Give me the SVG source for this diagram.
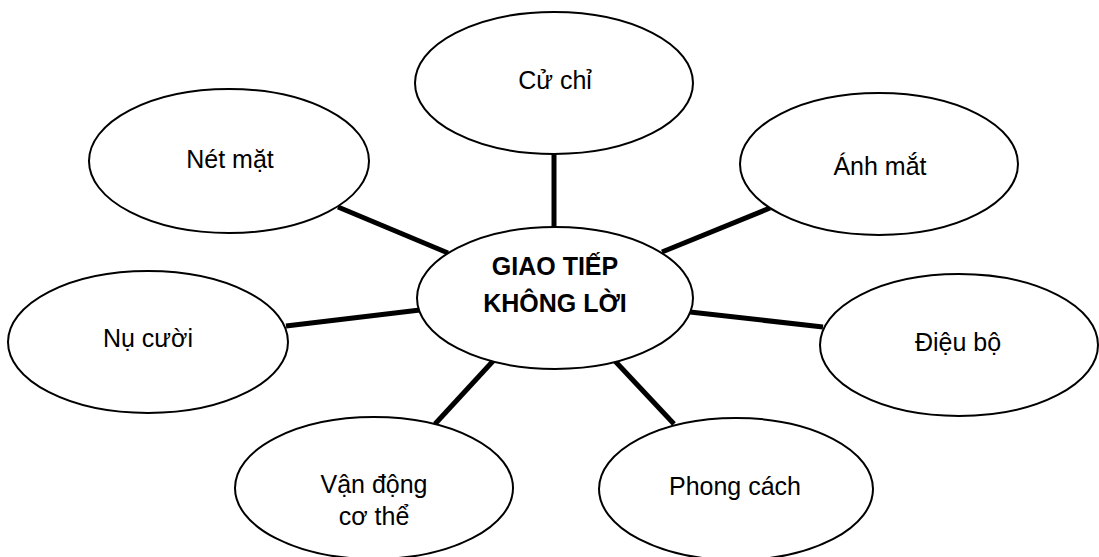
<svg xmlns="http://www.w3.org/2000/svg" width="1099" height="557" viewBox="0 0 1099 557">
<style>
.node ellipse{fill:#fff;stroke:#000;stroke-width:2}
.lbl{font-family:"Liberation Sans",Arial,sans-serif;font-size:25px;fill:#000;text-anchor:middle}
.hub{font-weight:bold}
.conn line{stroke:#000;stroke-width:5;stroke-linecap:butt}
</style>
<rect width="1099" height="557" fill="#fff"/>
<g id="connectors" class="conn">
<line x1="554" y1="153" x2="554" y2="228"/>
<line x1="338" y1="207" x2="448" y2="253"/>
<line x1="286" y1="326" x2="420" y2="310"/>
<line x1="770" y1="208" x2="662" y2="252"/>
<line x1="690" y1="312" x2="823" y2="327"/>
<line x1="435" y1="424" x2="494" y2="360"/>
<line x1="674" y1="424" x2="615" y2="361"/>
</g>
<g id="n-center" class="node"><ellipse cx="555" cy="298" rx="138" ry="71"/><text class="lbl hub" x="555" y="275">GIAO TIẾP</text><text class="lbl hub" x="555" y="312">KHÔNG LỜI</text></g>
<g id="n-cuchi" class="node"><ellipse cx="554" cy="83" rx="139" ry="71"/><text class="lbl" x="555" y="89">Cử chỉ</text></g>
<g id="n-netmat" class="node"><ellipse cx="229" cy="161" rx="140" ry="72"/><text class="lbl" x="230" y="168">Nét mặt</text></g>
<g id="n-anhmat" class="node"><ellipse cx="879" cy="164" rx="139" ry="71"/><text class="lbl" x="880" y="175">Ánh mắt</text></g>
<g id="n-nucuoi" class="node"><ellipse cx="148" cy="342" rx="140" ry="71"/><text class="lbl" x="148" y="347">Nụ cười</text></g>
<g id="n-dieubo" class="node"><ellipse cx="959" cy="345" rx="139" ry="71"/><text class="lbl" x="958" y="351">Điệu bộ</text></g>
<g id="n-vandong" class="node"><ellipse cx="374" cy="488" rx="139" ry="71"/><text class="lbl" x="374" y="493">Vận động</text><text class="lbl" x="374" y="525">cơ thể</text></g>
<g id="n-phongcach" class="node"><ellipse cx="736" cy="489" rx="137" ry="71"/><text class="lbl" x="735" y="495">Phong cách</text></g>
</svg>
